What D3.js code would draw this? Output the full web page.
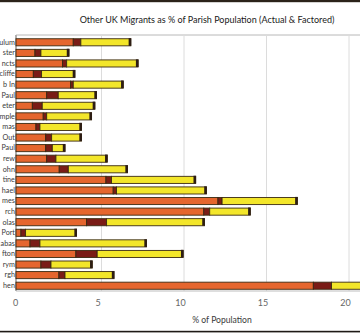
<!DOCTYPE html>
<html>
<head>
<meta charset="utf-8">
<script src="https://cdn.jsdelivr.net/npm/d3@7"></script>
<style>
  html, body { margin: 0; padding: 0; background: #fff; }
  svg { display: block; }
  text { font-family: Lato, "Open Sans", sans-serif; }
</style>
</head>
<body>
<svg id="chart" width="360" height="335"></svg>
<script>
// Parish names (as shown along the left edge)
const categories = ["ulum", "ster", "ncts", "cliffe", "b In", "Paul", "eter", "mple", "mas", "Out",
  "Paul", "rew", "ohn", "tine", "hael", "mes", "rch", "olas", "Port", "abas", "fton", "rym", "rgh", "hen"];

// Actual share of the population (%)
const actual = [3.47, 1.15, 2.82, 1.05, 3.31, 1.86, 0.99, 1.65, 1.21, 1.80, 1.80, 1.86, 2.62, 5.45,
  5.89, 12.24, 11.38, 4.28, 0.30, 0.85, 3.63, 1.51, 2.60, 18.02];
// Additional actual share (dark segment)
const actualExtra = [0.46, 0.36, 0.25, 0.50, 0.16, 0.70, 0.60, 0.21, 0.24, 0.36, 0.40, 0.56, 0.55, 0.34,
  0.20, 0.25, 0.36, 1.21, 0.28, 0.60, 1.29, 0.61, 0.37, 1.10];
// Factored addition on top of the actual figures
const factored = [3.03, 1.70, 4.33, 2.02, 3.03, 2.32, 3.19, 2.72, 2.52, 1.81, 0.77, 3.11, 3.59, 5.10,
  5.45, 4.56, 2.46, 5.93, 3.09, 6.46, 5.21, 2.50, 2.97, 3.00];

const xTicks = [0, 5, 10, 15, 20];

const seriesKeys = ["actual", "actualExtra", "factored"];
const colors = { actual: "#e5662e", actualExtra: "#7a1c16", factored: "#f3e62a" };

const rows = categories.map((c, i) => ({
  i, name: c, actual: actual[i], actualExtra: actualExtra[i], factored: factored[i]
}));

const svg = d3.select("#chart");
const W = 360, H = 335;
const plot = { left: 16, top: 35, bottom: 291 };
const depth = 3; // back-wall offset of the 3D frame

const x = d3.scaleLinear().domain([0, 20]).range([plot.left, plot.left + 330]);
const y = d3.scaleBand().domain(d3.range(categories.length))
  .range([37, plot.bottom])
  .paddingInner(0.33).paddingOuter(0.165);

// outer frame lines
svg.append("rect").attr("x", 0).attr("y", 0).attr("width", W).attr("height", 2.2).attr("fill", "#2b231a");
svg.append("rect").attr("x", 0).attr("y", 330.8).attr("width", W).attr("height", 1.6).attr("fill", "#1e1a16");

// title
svg.append("text")
  .attr("x", 207).attr("y", 23)
  .attr("text-anchor", "middle")
  .attr("font-size", 9)
  .attr("fill", "#1a1a1a")
  .text("Other UK Migrants as % of Parish Population (Actual & Factored)");

// back wall top edge and grid lines
svg.append("line")
  .attr("x1", plot.left).attr("x2", W).attr("y1", plot.top).attr("y2", plot.top)
  .attr("stroke", "#b8b8b8").attr("stroke-width", 1);
svg.append("g").selectAll("line")
  .data(xTicks.filter(d => d > 0))
  .join("line")
  .attr("x1", d => x(d) + depth).attr("x2", d => x(d) + depth)
  .attr("y1", plot.top).attr("y2", plot.bottom)
  .attr("stroke", "#dcdcdc").attr("stroke-width", 1);

// floor / axis lines
svg.append("line")
  .attr("x1", plot.left).attr("x2", W).attr("y1", plot.bottom).attr("y2", plot.bottom)
  .attr("stroke", "#bdbdbd").attr("stroke-width", 1.2);
svg.append("line")
  .attr("x1", plot.left).attr("x2", plot.left).attr("y1", plot.top).attr("y2", plot.bottom)
  .attr("stroke", "#b0b0b0").attr("stroke-width", 2);

// stacked bars
const stack = d3.stack().keys(seriesKeys);
const stacked = stack(rows);
const bh = y.bandwidth();

const layers = svg.append("g").selectAll("g")
  .data(stacked)
  .join("g")
  .attr("fill", d => colors[d.key]);
layers.selectAll("rect")
  .data(d => d)
  .join("rect")
  .attr("x", d => x(d[0]))
  .attr("y", d => y(d.data.i))
  .attr("width", d => Math.max(0, x(d[1]) - x(d[0])))
  .attr("height", bh)
  .attr("stroke", "#3a2a12")
  .attr("stroke-width", 0.9);

// dark end caps (side face of each bar)
svg.append("g").selectAll("rect")
  .data(rows)
  .join("rect")
  .attr("x", d => x(d.actual + d.actualExtra + d.factored) - 2.2)
  .attr("y", d => y(d.i) - 0.6)
  .attr("width", 2.6)
  .attr("height", bh + 0.6)
  .attr("fill", "#2d1d14");

// category labels
const yAxis = d3.axisLeft(y).tickSize(0).tickPadding(0.6).tickFormat(i => categories[i]);
const yg = svg.append("g").attr("transform", `translate(${plot.left - 0.5},0)`).call(yAxis);
yg.select(".domain").remove();
yg.selectAll("text").attr("font-size", 7.2).attr("fill", "#3a3a3a")
  .style("font-family", "Lato, 'Open Sans', sans-serif");

// value axis labels
const xAxis = d3.axisBottom(x).tickValues(xTicks).tickSize(0).tickPadding(0).tickFormat(d3.format("d"));
const xg = svg.append("g").attr("transform", `translate(-1,300)`).call(xAxis);
xg.select(".domain").remove();
xg.selectAll("text").attr("font-size", 9).attr("fill", "#666")
  .style("font-family", "Lato, 'Open Sans', sans-serif");

// axis title
svg.append("text")
  .attr("x", 222).attr("y", 323)
  .attr("text-anchor", "middle")
  .attr("font-size", 8.6)
  .attr("fill", "#3a3a3a")
  .text("% of Population");
</script>
</body>
</html>
